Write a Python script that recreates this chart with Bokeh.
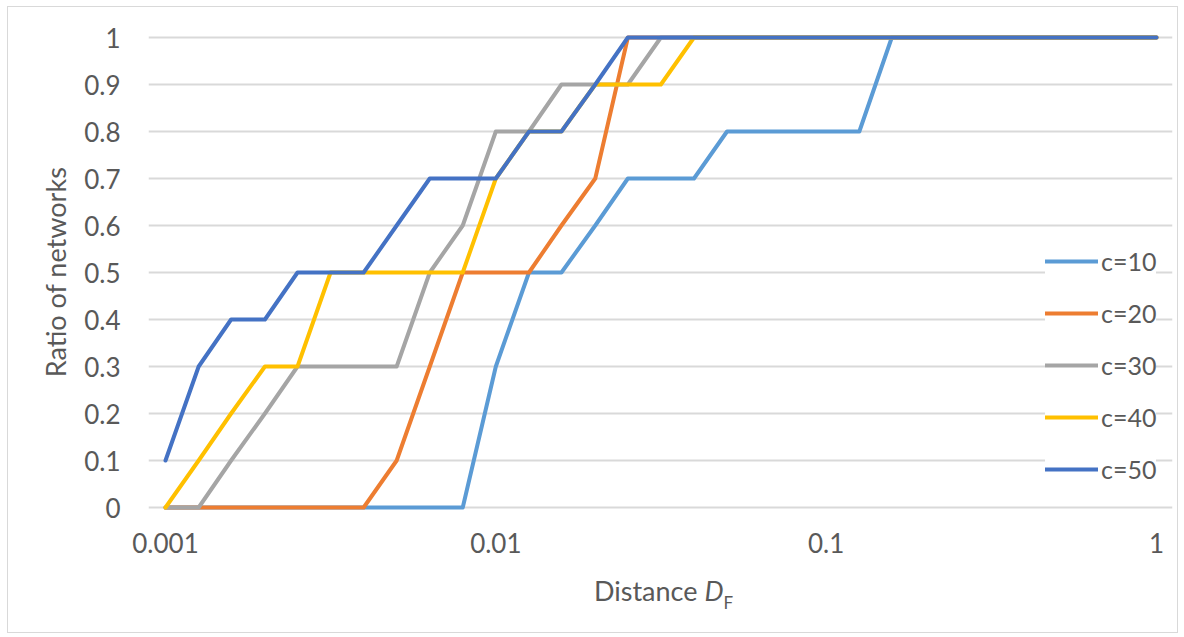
from bokeh.plotting import figure
from bokeh.models import Range1d, FixedTicker, Div
from bokeh.layouts import column
from bokeh.embed import file_html
from bokeh.resources import INLINE

# ---- data ----
distance = [0.001, 0.00126, 0.00158, 0.002, 0.00251, 0.00316, 0.00398, 0.00501, 0.00631, 0.00794,
            0.01, 0.0126, 0.0158, 0.02, 0.0251, 0.0316, 0.0398, 0.0501, 0.0631, 0.0794,
            0.1, 0.126, 0.158, 0.2, 0.251, 0.316, 0.398, 0.501, 0.631, 0.794, 1.0]

c10 = [0, 0, 0, 0, 0, 0, 0, 0, 0, 0,
       0.3, 0.5, 0.5, 0.6, 0.7, 0.7, 0.7, 0.8, 0.8, 0.8,
       0.8, 0.8, 1, 1, 1, 1, 1, 1, 1, 1, 1]
c20 = [0, 0, 0, 0, 0, 0, 0, 0.1, 0.3, 0.5,
       0.5, 0.5, 0.6, 0.7, 1, 1, 1, 1, 1, 1,
       1, 1, 1, 1, 1, 1, 1, 1, 1, 1, 1]
c30 = [0, 0, 0.1, 0.2, 0.3, 0.3, 0.3, 0.3, 0.5, 0.6,
       0.8, 0.8, 0.9, 0.9, 0.9, 1, 1, 1, 1, 1,
       1, 1, 1, 1, 1, 1, 1, 1, 1, 1, 1]
c40 = [0, 0.1, 0.2, 0.3, 0.3, 0.5, 0.5, 0.5, 0.5, 0.5,
       0.7, 0.8, 0.8, 0.9, 0.9, 0.9, 1, 1, 1, 1,
       1, 1, 1, 1, 1, 1, 1, 1, 1, 1, 1]
c50 = [0.1, 0.3, 0.4, 0.4, 0.5, 0.5, 0.5, 0.6, 0.7, 0.7,
       0.7, 0.8, 0.8, 0.9, 1, 1, 1, 1, 1, 1,
       1, 1, 1, 1, 1, 1, 1, 1, 1, 1, 1]

series_names = ["c=10", "c=20", "c=30", "c=40", "c=50"]
series_values = [c10, c20, c30, c40, c50]
series_colors = ["#5B9BD5", "#ED7D31", "#A5A5A5", "#FFC000", "#4472C4"]

x_ticks = [0.001, 0.01, 0.1, 1]
x_tick_labels = ["0.001", "0.01", "0.1", "1"]
y_ticks = [0, 0.1, 0.2, 0.3, 0.4, 0.5, 0.6, 0.7, 0.8, 0.9, 1]
y_tick_labels = ["0", "0.1", "0.2", "0.3", "0.4", "0.5", "0.6", "0.7", "0.8", "0.9", "1"]

y_title = "Ratio of networks"
x_title_main = "Distance"
x_title_sym = "D"
x_title_sub = "F"

# ---- style ----
FONT = "Lato"
TXT = "#595959"
GRID = "#d9d9d9"

p = figure(width=1169, height=570, x_axis_type="log",
           x_range=Range1d(10 ** -3.05147, 10 ** 0.04844),
           y_range=Range1d(-0.010638, 1.012766),
           output_backend="svg", toolbar_location=None,
           min_border_left=140, min_border_right=5,
           min_border_top=24, min_border_bottom=65)
p.outline_line_color = None
p.background_fill_color = "white"
p.border_fill_color = "white"

for name, vals, col in zip(series_names, series_values, series_colors):
    p.line(distance, vals, line_color=col, line_width=4, line_join="round",
           line_cap="round", legend_label=name)

# axes
p.xaxis.ticker = FixedTicker(ticks=x_ticks, minor_ticks=[])
p.xaxis.major_label_overrides = dict(zip(x_ticks, x_tick_labels))
p.yaxis.ticker = FixedTicker(ticks=y_ticks, minor_ticks=[])
p.yaxis.major_label_overrides = dict(zip(y_ticks, y_tick_labels))

for ax in (p.xaxis[0], p.yaxis[0]):
    ax.axis_line_color = None
    ax.major_tick_line_color = None
    ax.minor_tick_line_color = None
    ax.major_tick_out = 0
    ax.major_tick_in = 0
    ax.major_label_text_font = FONT
    ax.major_label_text_font_size = "26px"
    ax.major_label_text_color = TXT

p.xaxis.major_label_standoff = 20
p.yaxis.major_label_standoff = 28
p.yaxis.axis_label = y_title
p.yaxis.axis_label_text_font = FONT
p.yaxis.axis_label_text_font_size = "27px"
p.yaxis.axis_label_text_font_style = "normal"
p.yaxis.axis_label_text_color = TXT
p.yaxis.axis_label_standoff = 9

p.xgrid.grid_line_color = None
p.ygrid.grid_line_color = GRID
p.ygrid.grid_line_width = 2

# legend
lg = p.legend[0]
lg.location = (897, 28)
lg.background_fill_color = "white"
lg.background_fill_alpha = 1
lg.border_line_color = None
lg.padding = 10
lg.margin = 0
lg.spacing = 22
lg.glyph_width = 53
lg.glyph_height = 30
lg.label_height = 30
lg.label_standoff = 3
lg.label_text_font = FONT
lg.label_text_font_size = "25px"
lg.label_text_color = TXT

# x-axis title: "Distance D_F" (italic D, subscript F) as real HTML text
x_title_html = (
    f'<div style="margin-left:586px; font-family:{FONT}; font-size:27px; line-height:1; '
    f'color:{TXT}; white-space:nowrap;">{x_title_main} <i>{x_title_sym}</i>'
    f'<span style="font-size:17px; position:relative; top:8px;">{x_title_sub}</span></div>'
)
title_div = Div(text=x_title_html, width=1169, height=55, margin=0)

layout = column(p, title_div, spacing=0,
                styles={"border": "1px solid #d9d9d9", "margin-left": "7px",
                        "margin-top": "6px", "background-color": "white"})

open("out.html", "w").write(file_html(layout, INLINE))
